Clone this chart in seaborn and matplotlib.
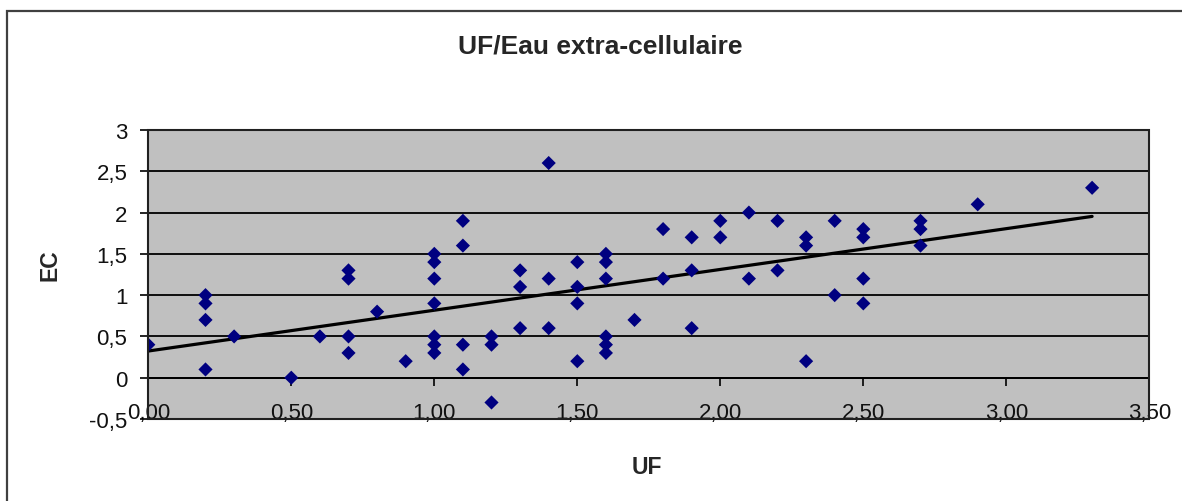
import matplotlib
matplotlib.use("Agg")
import matplotlib.pyplot as plt
from matplotlib.patches import Rectangle
from matplotlib.ticker import FixedLocator, FuncFormatter
import numpy as np
import pandas as pd
import seaborn as sns

# valeurs
uf = [0.0,
      0.2, 0.2, 0.2, 0.2,
      0.3, 0.5, 0.6,
      0.7, 0.7, 0.7, 0.7,
      0.8, 0.9,
      1.0, 1.0, 1.0, 1.0, 1.0, 1.0, 1.0,
      1.1, 1.1, 1.1, 1.1,
      1.2, 1.2, 1.2,
      1.3, 1.3, 1.3,
      1.4, 1.4, 1.4,
      1.5, 1.5, 1.5, 1.5,
      1.6, 1.6, 1.6, 1.6, 1.6, 1.6,
      1.7,
      1.8, 1.8,
      1.9, 1.9, 1.9,
      2.0, 2.0,
      2.1, 2.1,
      2.2, 2.2,
      2.3, 2.3, 2.3,
      2.4, 2.4,
      2.5, 2.5, 2.5, 2.5,
      2.7, 2.7, 2.7,
      2.9, 3.3]
ec = [0.4,
      1.0, 0.9, 0.7, 0.1,
      0.5, 0.0, 0.5,
      1.3, 1.2, 0.5, 0.3,
      0.8, 0.2,
      1.5, 1.4, 1.2, 0.9, 0.5, 0.4, 0.3,
      1.9, 1.6, 0.4, 0.1,
      0.5, 0.4, -0.3,
      1.3, 1.1, 0.6,
      2.6, 1.2, 0.6,
      1.4, 1.1, 0.9, 0.2,
      1.5, 1.4, 1.2, 0.5, 0.4, 0.3,
      0.7,
      1.8, 1.2,
      1.7, 1.3, 0.6,
      1.9, 1.7,
      2.0, 1.2,
      1.9, 1.3,
      1.7, 1.6, 0.2,
      1.9, 1.0,
      1.8, 1.7, 1.2, 0.9,
      1.9, 1.8, 1.6,
      2.1, 2.3]

x_ticks = [0.0, 0.5, 1.0, 1.5, 2.0, 2.5, 3.0, 3.5]
y_ticks = [-0.5, 0.0, 0.5, 1.0, 1.5, 2.0, 2.5, 3.0]

df = pd.DataFrame({"UF": uf, "EC": ec})

sns.set_style("white")
plt.rcParams["font.family"] = ["Liberation Sans", "DejaVu Sans"]

W, H = 1182, 502
fig = plt.figure(figsize=(W / 100, H / 100), dpi=100)
ax = fig.add_axes([148.3 / W, (H - 420) / H, 1001 / W, 289 / H])
ax.set_facecolor("#c0c0c0")

# droite de tendance (régression linéaire)
sns.regplot(data=df, x="UF", y="EC", scatter=False, ci=None, ax=ax,
            color="black", line_kws={"lw": 2.3, "zorder": 3})
sns.scatterplot(data=df, x="UF", y="EC", ax=ax, marker="D", s=52,
                color="#000080", edgecolor="none", zorder=4)

ax.set_xlim(0, 3.5)
ax.set_ylim(-0.5, 3)
ax.set_xlabel("")
ax.set_ylabel("")

ax.xaxis.set_major_locator(FixedLocator(x_ticks))
ax.yaxis.set_major_locator(FixedLocator(y_ticks))
ax.xaxis.set_major_formatter(FuncFormatter(lambda v, p: f"{v:.2f}".replace(".", ",")))
ax.yaxis.set_major_formatter(FuncFormatter(lambda v, p: f"{v:g}".replace(".", ",")))

ax.yaxis.grid(True, color="black", lw=1.3)
ax.xaxis.grid(False)
ax.set_axisbelow(True)

for s in ["top", "right"]:
    ax.spines[s].set_visible(False)
ax.spines["bottom"].set_position(("data", 0))
ax.spines["bottom"].set_color("black")
ax.spines["bottom"].set_linewidth(1.3)
ax.spines["left"].set_color("black")
ax.spines["left"].set_linewidth(1.3)

ax.tick_params(axis="both", direction="out", length=5.8, width=1.2,
               color="black", labelsize=16, labelcolor="#111111")
ax.tick_params(axis="x", pad=11.5, bottom=True)
ax.tick_params(axis="y", pad=9.3, left=True)

# cadre de la zone de traçage
ax.add_patch(Rectangle((0, 0), 1, 1, transform=ax.transAxes, fill=False,
                       ec="#202020", lw=1.5, zorder=5, clip_on=False))

# cadre du graphique
fig.add_artist(Rectangle((7 / W, -0.1), 1.2, (H - 12) / H + 0.1,
                         transform=fig.transFigure, fill=False,
                         ec="#404040", lw=1.6))

fig.text(600 / W, 1 - 53 / H, "UF/Eau extra-cellulaire", ha="center",
         va="baseline", fontsize=19, fontweight="bold")
fig.text(50 / W, 1 - 265 / H, "EC", rotation=90, ha="center", va="center",
         fontsize=16.5, fontweight="bold")
fig.text(647 / W, 1 - 474 / H, "UF", ha="center", va="baseline",
         fontsize=16.5, fontweight="bold")

fig.savefig("out.png", dpi=100)
